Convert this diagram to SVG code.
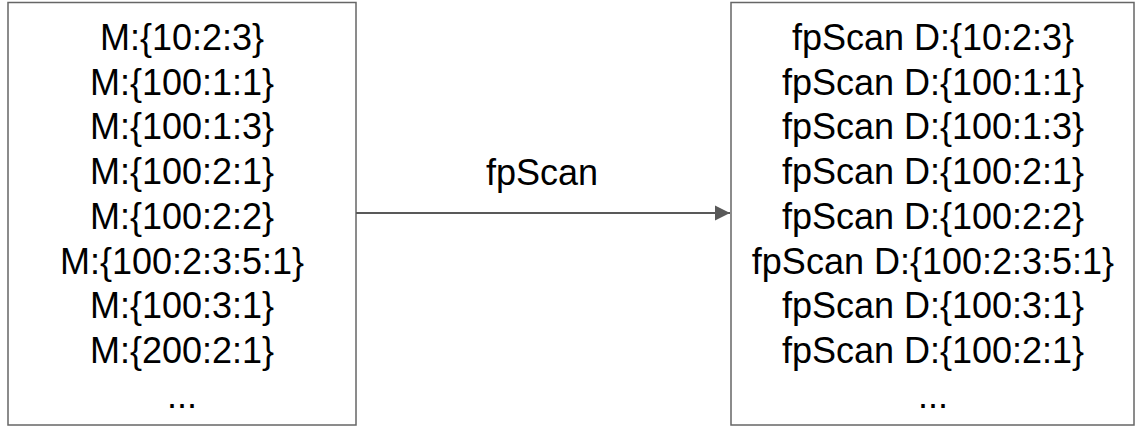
<svg xmlns="http://www.w3.org/2000/svg" width="1142" height="427" viewBox="0 0 1142 427">
  <style>
    .box { fill: #ffffff; stroke: #666666; stroke-width: 1.5; }
    .lbl { font-family: "Liberation Sans", Arial, sans-serif; font-size: 36px; fill: #000000; text-anchor: middle; }
    .edge { stroke: #595959; stroke-width: 2; fill: none; }
  </style>
  <defs>
    <marker id="arrow" markerWidth="16" markerHeight="16" refX="15" refY="8" orient="auto" markerUnits="userSpaceOnUse">
      <path d="M0,0.5 L15,8 L0,15.5 Z" fill="#595959"/>
    </marker>
  </defs>
  <rect width="1142" height="427" fill="#ffffff"/>

  <g id="source">
    <rect class="box" x="8" y="2.5" width="348" height="422.5"/>
    <text class="lbl" x="182" y="50">M:{10:2:3}</text>
    <text class="lbl" x="182" y="94.7">M:{100:1:1}</text>
    <text class="lbl" x="182" y="139.4">M:{100:1:3}</text>
    <text class="lbl" x="182" y="184.1">M:{100:2:1}</text>
    <text class="lbl" x="182" y="228.9">M:{100:2:2}</text>
    <text class="lbl" x="182" y="273.6">M:{100:2:3:5:1}</text>
    <text class="lbl" x="182" y="318.3">M:{100:3:1}</text>
    <text class="lbl" x="182" y="363">M:{200:2:1}</text>
    <text class="lbl" x="182" y="407.7">...</text>
  </g>

  <g id="target">
    <rect class="box" x="731" y="2.5" width="403" height="422.5"/>
    <text class="lbl" x="933" y="50">fpScan D:{10:2:3}</text>
    <text class="lbl" x="933" y="94.7">fpScan D:{100:1:1}</text>
    <text class="lbl" x="933" y="139.4">fpScan D:{100:1:3}</text>
    <text class="lbl" x="933" y="184.1">fpScan D:{100:2:1}</text>
    <text class="lbl" x="933" y="228.9">fpScan D:{100:2:2}</text>
    <text class="lbl" x="933" y="273.6">fpScan D:{100:2:3:5:1}</text>
    <text class="lbl" x="933" y="318.3">fpScan D:{100:3:1}</text>
    <text class="lbl" x="933" y="363">fpScan D:{100:2:1}</text>
    <text class="lbl" x="933" y="407.7">...</text>
  </g>

  <g id="connectors">
    <line class="edge" x1="356" y1="213" x2="730" y2="213" marker-end="url(#arrow)"/>
    <text class="lbl" x="542" y="185">fpScan</text>
  </g>
</svg>
